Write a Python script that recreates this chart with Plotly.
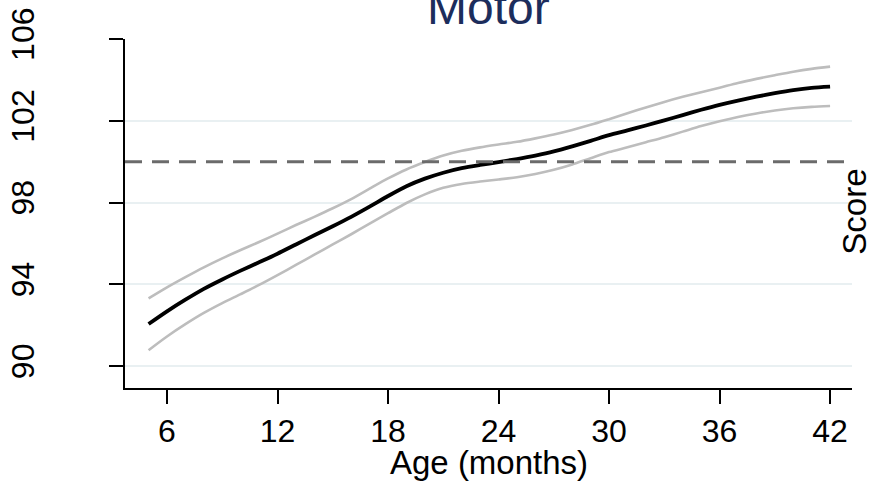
import plotly.graph_objects as go

age = [5, 6, 7, 8, 9, 10, 11, 12, 13, 14, 15, 16, 17, 18, 19, 20, 21, 22, 23,
       24, 25, 26, 27, 28, 29, 30, 31, 32, 33, 34, 35, 36, 37, 38, 39, 40, 41, 42]
score = [92.06, 92.68, 93.25, 93.78, 94.24, 94.67, 95.08, 95.5, 95.95, 96.4, 96.84,
         97.3, 97.8, 98.32, 98.8, 99.17, 99.46, 99.68, 99.84, 99.98, 100.13, 100.3,
         100.5, 100.75, 101.02, 101.3, 101.53, 101.77, 102.02, 102.28, 102.54, 102.78,
         102.99, 103.18, 103.35, 103.5, 103.61, 103.67]
upper = [93.31, 93.85, 94.35, 94.83, 95.27, 95.68, 96.07, 96.48, 96.9, 97.3, 97.72,
         98.17, 98.68, 99.18, 99.62, 99.98, 100.3, 100.53, 100.7, 100.84, 100.97,
         101.14, 101.33, 101.55, 101.8, 102.08, 102.37, 102.65, 102.92, 103.17, 103.4,
         103.62, 103.85, 104.05, 104.23, 104.4, 104.54, 104.65]
lower = [90.78, 91.45, 92.05, 92.6, 93.08, 93.52, 93.97, 94.45, 94.95, 95.45, 95.95,
         96.45, 96.97, 97.48, 97.98, 98.4, 98.72, 98.91, 99.03, 99.13, 99.24, 99.4,
         99.6, 99.86, 100.17, 100.47, 100.7, 100.95, 101.2, 101.47, 101.74, 101.98,
         102.19, 102.36, 102.5, 102.61, 102.68, 102.72]
reference = 100
x_ticks = [6, 12, 18, 24, 30, 36, 42]
y_ticks = [90, 94, 98, 102, 106]

FONT = "Liberation Sans, Arial, sans-serif"

fig = go.Figure()
fig.add_hline(y=reference, line=dict(color="#6b6b6b", width=3, dash="17px,10px"))
for band in (upper, lower):
    fig.add_trace(go.Scatter(x=age, y=band, mode="lines",
                             line=dict(color="#bdbdbd", width=2.6, shape="spline",
                                       smoothing=0.8),
                             showlegend=False, hoverinfo="skip"))
fig.add_trace(go.Scatter(x=age, y=score, mode="lines",
                         line=dict(color="#000000", width=3.8, shape="spline",
                                   smoothing=0.8),
                         showlegend=False))

fig.update_layout(
    width=869, height=486,
    margin=dict(l=125, r=17, t=39, b=98, autoexpand=False),
    paper_bgcolor="white", plot_bgcolor="white",
    font=dict(family=FONT, color="black", size=32),
    showlegend=False,
    xaxis=dict(range=[3.72, 43.19], tickvals=x_ticks, ticks="outside", ticklen=14,
               tickwidth=2, tickcolor="black", showline=True, linecolor="black",
               linewidth=2, showgrid=False, zeroline=False, automargin=False,
               tickfont=dict(size=32, family=FONT)),
    yaxis=dict(range=[88.93, 106], tickvals=y_ticks, ticks="outside", ticklen=14,
               tickwidth=2, tickcolor="black", showline=True, linecolor="black",
               linewidth=2, showgrid=True, gridcolor="#e9f0f2", gridwidth=2,
               zeroline=False, tickangle=-90, ticklabelstandoff=62, automargin=False,
               ticklabeloverflow="allow",
               tickfont=dict(size=32, family=FONT)),
    annotations=[
        dict(text="Motor", xref="paper", yref="paper", x=0.5, y=1.0, yshift=3,
             xanchor="center", yanchor="bottom", showarrow=False,
             font=dict(size=48, color="#1c2d5c", family=FONT)),
        dict(text="Age (months)", xref="paper", yref="paper", x=0.5, y=-0.213,
             xanchor="center", yanchor="middle", showarrow=False,
             font=dict(size=33, color="black", family=FONT)),
        dict(text="Score", xref="paper", yref="paper", x=1.004, y=0.505,
             xanchor="center", yanchor="middle", textangle=-90, showarrow=False,
             font=dict(size=33, color="black", family=FONT)),
    ],
)

fig.write_html("out.html", config={"displayModeBar": False},
               post_script="document.body.style.margin='0';")
